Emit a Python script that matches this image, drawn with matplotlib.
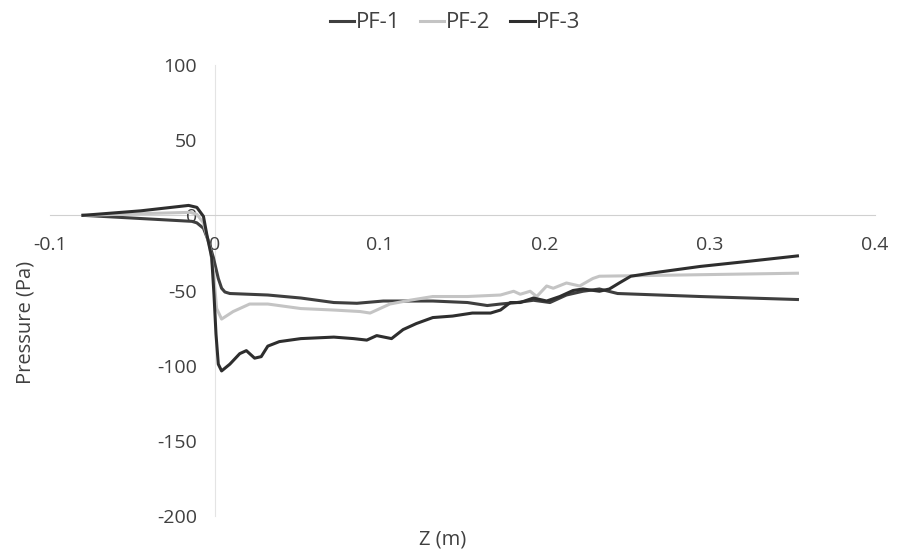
"""
Pressure along Z for three pressure-field cases.
"""

import matplotlib

matplotlib.use("Agg")

import matplotlib.pyplot as plt

plt.rcParams["font.family"] = ["Open Sans", "DejaVu Sans"]
plt.rcParams["axes.unicode_minus"] = False

# ============================================================
# Data
# ============================================================

pf1_z = [-0.08, -0.014, -0.011, -0.007, -0.004, -0.001, 0.002, 0.004, 0.006,
         0.009, 0.032, 0.052, 0.072, 0.086, 0.102, 0.132, 0.153, 0.165, 0.173,
         0.183, 0.193, 0.203, 0.213, 0.223, 0.233, 0.244, 0.294, 0.353]
pf1_p = [0, -4, -5, -8.6, -17, -28, -42, -48.5, -51,
         -52, -53, -55, -58, -58.5, -57, -57, -58, -60, -59,
         -58, -56.5, -58, -53, -50.5, -49, -52, -54, -56]

pf2_z = [-0.08, -0.015, -0.011, -0.007, -0.003, -0.001, 0.001, 0.004, 0.011,
         0.021, 0.032, 0.052, 0.072, 0.088, 0.094, 0.100, 0.106, 0.118, 0.132,
         0.153, 0.173, 0.181, 0.185, 0.191, 0.195, 0.201, 0.205, 0.213, 0.221,
         0.229, 0.233, 0.264, 0.353]
pf2_p = [0, 2, 0.7, -5, -22, -37, -62, -69, -64,
         -59, -59, -62, -63, -64, -65, -62, -59, -56.5, -54,
         -54, -53, -50.5, -52.5, -50.5, -54, -47, -48.5, -45, -47,
         -42, -40.5, -40, -38.5]

pf3_z = [-0.08, -0.045, -0.016, -0.011, -0.007, -0.005, -0.002, -0.0006,
         0.0006, 0.002, 0.004, 0.009, 0.015, 0.019, 0.024, 0.028, 0.032,
         0.039, 0.052, 0.072, 0.084, 0.092, 0.098, 0.107, 0.114, 0.122, 0.132,
         0.144, 0.156, 0.167, 0.173, 0.179, 0.185, 0.193, 0.201, 0.209, 0.217,
         0.223, 0.233, 0.239, 0.245, 0.252, 0.264, 0.294, 0.324, 0.353]
pf3_p = [0, 3, 6.6, 5.3, -0.7, -12.6, -28, -53,
         -79, -99, -103.5, -99, -92, -90, -95, -94, -87,
         -84, -82, -81, -82, -83, -80, -82, -76, -72, -68,
         -67, -65, -65, -63, -58, -58, -55, -57, -54, -50,
         -49, -50.5, -49, -45, -40.5, -38.5, -34, -30.5, -27]

x_ticks = [-0.1, 0, 0.1, 0.2, 0.3, 0.4]
x_tick_labels = ["-0.1", "0", "0.1", "0.2", "0.3", "0.4"]
y_ticks = [100, 50, 0, -50, -100, -150, -200]

# ============================================================
# Figure
# ============================================================

fig = plt.figure(figsize=(8.98, 5.57), dpi=100)
ax = fig.add_axes([50 / 898, 1 - 516 / 557, 825 / 898, 451 / 557])

ax.plot(pf1_z, pf1_p, color="#3f3f3f", linewidth=2.2, label="PF-1")
ax.plot(pf2_z, pf2_p, color="#c4c4c4", linewidth=2.2, label="PF-2")
ax.plot(pf3_z, pf3_p, color="#2e2e2e", linewidth=2.2, label="PF-3")

ax.set_xlim(-0.1, 0.4)
ax.set_ylim(-200, 100)

ax.spines["left"].set_position(("data", 0))
ax.spines["bottom"].set_position(("data", 0))
ax.spines["top"].set_visible(False)
ax.spines["right"].set_visible(False)
ax.spines["left"].set_color("#e4e4e4")
ax.spines["bottom"].set_color("#d0d0d0")
ax.spines["left"].set_zorder(0)
ax.spines["bottom"].set_zorder(0)

ax.set_xticks(x_ticks)
ax.set_xticklabels(x_tick_labels)
ax.set_yticks(y_ticks)

ax.tick_params(axis="both", length=0, labelsize=14, labelcolor="#404040")
ax.tick_params(axis="y", pad=13)
ax.tick_params(axis="x", pad=15)

fig.text(25 / 898, 1 - 322 / 557, "Pressure (Pa)", rotation=90,
         ha="center", va="center", fontsize=14.5, color="#404040")
fig.text(443 / 898, 1 - 540 / 557, "Z (m)",
         ha="center", va="center", fontsize=14.5, color="#404040")

fig.legend(
    loc="center",
    bbox_to_anchor=(455 / 898, 1 - 23 / 557),
    ncol=3,
    frameon=False,
    fontsize=16,
    handlelength=1.1,
    handletextpad=0.05,
    columnspacing=0.9,
    labelcolor="#404040",
)

fig.savefig("out.png", dpi=100)
